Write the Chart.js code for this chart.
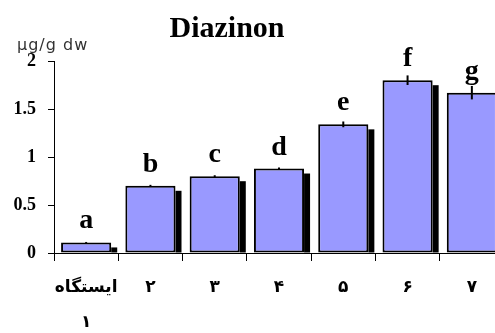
<!DOCTYPE html>
<html>
<head>
<meta charset="utf-8">
<script src="https://cdn.jsdelivr.net/npm/chart.js@4/dist/chart.umd.min.js"></script>
<style>
  html, body { margin: 0; padding: 0; background: #fff; overflow: hidden; }
  #wrap { position: absolute; left: 0; top: 0; width: 504px; height: 333px; }
</style>
</head>
<body>
<div id="wrap"><canvas id="diazinonChart" width="504" height="333"></canvas></div>
<script>
// داده‌ها
const stations = [['ایستگاه', '۱'], '۲', '۳', '۴', '۵', '۶', '۷'];
const values = [0.11, 0.70, 0.80, 0.88, 1.34, 1.80, 1.67];
const errors = [0.005, 0.01, 0.01, 0.01, 0.03, 0.05, 0.07];
const groupLetters = ['a', 'b', 'c', 'd', 'e', 'f', 'g'];
const yTicks = [0, 0.5, 1, 1.5, 2];

// سایه سیاه کنار ستون‌ها
const barShadow = {
    id: 'barShadow',
    beforeDatasetsDraw(chart) {
        const ctx = chart.ctx;
        const meta = chart.getDatasetMeta(0);
        ctx.save();
        ctx.fillStyle = '#000';
        meta.data.forEach(bar => {
            const p = bar.getProps(['x', 'y', 'base', 'width'], true);
            const right = p.x + p.width / 2;
            ctx.fillRect(right, p.y + 5, 6, p.base - p.y - 5);
        });
        ctx.restore();
    }
};

// خطای معیار و حروف
const errorAndLetters = {
    id: 'errorAndLetters',
    afterDatasetsDraw(chart) {
        const ctx = chart.ctx;
        const y = chart.scales.y;
        const meta = chart.getDatasetMeta(0);
        ctx.save();
        ctx.strokeStyle = '#000';
        ctx.lineWidth = 2;
        meta.data.forEach((bar, i) => {
            const top = y.getPixelForValue(values[i] + errors[i]);
            const bottom = y.getPixelForValue(values[i] - errors[i]);
            ctx.beginPath();
            ctx.moveTo(bar.x, top);
            ctx.lineTo(bar.x, bottom);
            ctx.stroke();
        });
        ctx.fillStyle = '#000';
        ctx.font = 'bold 28px "Liberation Serif", serif';
        ctx.textAlign = 'center';
        ctx.textBaseline = 'alphabetic';
        meta.data.forEach((bar, i) => {
            ctx.fillText(groupLetters[i], bar.x, bar.y - 14);
        });
        ctx.restore();
    }
};

// عنوان و واحد
const titleText = {
    id: 'titleText',
    afterDraw(chart) {
        const ctx = chart.ctx;
        ctx.save();
        ctx.fillStyle = '#000';
        ctx.font = 'bold 30px "Liberation Serif", serif';
        ctx.textAlign = 'center';
        ctx.textBaseline = 'alphabetic';
        ctx.fillText('Diazinon', 227, 37);
        ctx.fillStyle = '#333';
        ctx.font = '16px "DejaVu Sans", sans-serif';
        ctx.textAlign = 'left';
        ctx.letterSpacing = '1px';
        ctx.fillText('µg/g dw', 17, 50);
        ctx.restore();
    }
};

const ctx = document.getElementById('diazinonChart').getContext('2d');
new Chart(ctx, {
    type: 'bar',
    data: {
        labels: stations,
        datasets: [{
            data: values,
            backgroundColor: '#9999FF',
            borderColor: '#000',
            borderWidth: 2,
            borderSkipped: false,
            barPercentage: 0.78,
            categoryPercentage: 1
        }]
    },
    options: {
        responsive: false,
        animation: false,
        layout: { padding: { top: 61, left: 0, right: 0, bottom: 0 } },
        plugins: {
            legend: { display: false },
            tooltip: { enabled: false }
        },
        scales: {
            y: {
                min: 0,
                max: 2,
                afterFit: s => { s.width = 54; },
                afterBuildTicks: s => { s.ticks = yTicks.map(v => ({ value: v })); },
                grid: { drawOnChartArea: false, drawTicks: true, tickLength: 6, color: '#000' },
                border: { display: true, color: '#000', width: 1 },
                ticks: {
                    padding: 12,
                    color: '#000',
                    font: { family: '"Liberation Serif", serif', size: 18, weight: 'bold' },
                    callback: v => String(v)
                }
            },
            x: {
                afterFit: s => { s.height = 80; },
                grid: { drawOnChartArea: false, drawTicks: true, tickLength: 8, offset: true, color: '#000' },
                border: { display: true, color: '#000', width: 1 },
                ticks: {
                    padding: 9,
                    color: '#000',
                    maxRotation: 0,
                    autoSkip: false,
                    font: { family: '"DejaVu Sans", sans-serif', size: 17, weight: 'bold', lineHeight: 2.06 }
                }
            }
        }
    },
    plugins: [barShadow, errorAndLetters, titleText]
});
</script>
</body>
</html>
